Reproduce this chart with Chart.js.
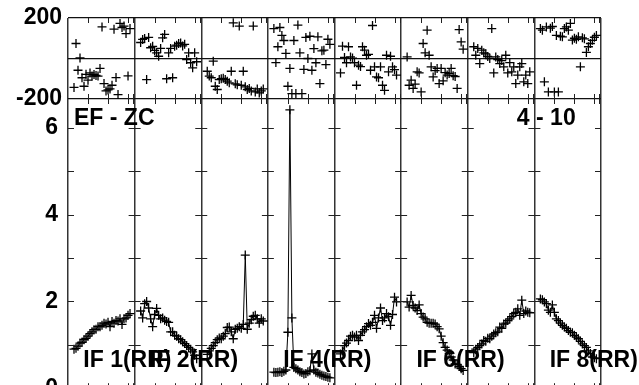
<!DOCTYPE html>
<html>
<head>
<meta charset="utf-8">
<script src="https://cdn.jsdelivr.net/npm/chart.js@4.4.0/dist/chart.umd.min.js"></script>
<style>
    html, body { margin: 0; padding: 0; background: #fff; overflow: hidden; width: 639px; height: 385px; }
    canvas { position: absolute; left: 0; top: 0; }
</style>
</head>
<body>
<canvas id="botChart" width="639" height="412"></canvas>
<canvas id="topChart" width="639" height="400"></canvas>
<script>
// channels of each IF (x inside one column)
const channels = [3, 4, 5, 6, 7, 8, 9, 10, 11, 12, 13, 14, 15, 16, 17, 18, 19, 20, 21, 22, 23, 24, 25, 26, 27, 28, 29, 30, 31];
const chPerCol = 33.3;

// amplitude per IF (bottom panel)
const ampIF1 = [0.90, 0.92, 0.97, 1.04, 1.06, 1.12, 1.15, 1.20, 1.26, 1.30, 1.35, 1.36, 1.42, 1.42, 1.45, 1.50, 1.48, 1.52, 1.42, 1.54, 1.50, 1.56, 1.55, 1.60, 1.47, 1.60, 1.62, 1.68, 1.72];
const ampIF2 = [1.78, 1.62, 1.95, 2.00, 1.85, 1.60, 1.42, 1.70, 1.84, 1.68, 1.60, 1.62, 1.57, 1.54, 1.52, 1.30, 1.30, 1.22, 1.20, 1.14, 1.12, 1.07, 1.03, 0.98, 0.94, 0.90, 0.84, 0.76, 0.68];
const ampIF3 = [0.78, 0.86, 0.92, 0.98, 1.05, 1.12, 1.16, 1.14, 1.20, 1.26, 1.40, 1.41, 1.30, 1.14, 1.36, 1.38, 1.42, 1.38, 1.47, 3.07, 1.36, 1.50, 1.58, 1.66, 1.68, 1.60, 1.50, 1.60, 1.55];
const ampIF4 = [0.37, 0.36, 0.37, 0.38, 0.36, 0.39, 0.42, 1.29, 6.42, 1.62, 0.48, 0.45, 0.42, 0.38, 0.36, 0.33, 0.34, 0.38, 0.40, 0.79, 0.42, 0.37, 0.35, 0.32, 0.30, 0.28, 0.27, 0.25, 0.24];
const ampIF5 = [0.79, 0.86, 0.98, 1.04, 1.10, 1.20, 1.22, 1.18, 1.22, 1.10, 1.22, 1.30, 1.35, 1.42, 1.49, 1.45, 1.52, 1.68, 1.38, 1.62, 1.85, 1.56, 1.62, 1.72, 1.65, 1.45, 1.70, 2.10, 1.99];
const ampIF6 = [1.99, 1.87, 2.14, 1.91, 1.85, 1.79, 1.92, 1.72, 1.64, 1.60, 1.52, 1.50, 1.50, 1.50, 1.48, 1.42, 1.37, 1.20, 1.05, 0.94, 0.88, 0.80, 0.72, 0.65, 0.56, 0.55, 0.50, 0.45, 0.41];
const ampIF7 = [0.82, 0.90, 0.94, 0.98, 1.02, 1.10, 1.08, 1.15, 1.14, 1.20, 1.25, 1.28, 1.30, 1.41, 1.38, 1.48, 1.50, 1.56, 1.60, 1.65, 1.72, 1.75, 1.83, 1.68, 2.03, 1.72, 1.78, 1.75, 1.74];
const ampIF8 = [2.06, 2.04, 1.99, 1.95, 1.80, 1.75, 1.92, 1.75, 1.60, 1.56, 1.50, 1.45, 1.41, 1.38, 1.33, 1.29, 1.28, 1.22, 1.18, 1.14, 1.08, 1.02, 0.98, 0.94, 0.86, 0.80, 0.72, 0.70, 0.68];

// phase per IF in degrees (top panel)
const phIF1 = [-143, 74, -58, 3, -95, -137, -78, -107, -71, -87, -79, -84, -87, -49, 156, -124, -160, -155, -150, -132, 145, -94, -178, 173, 153, 160, 123, -86, 148];
const phIF2 = [79, 94, 99, -104, 104, 53, 60, 40, 28, 11, 50, 102, 119, -100, 28, 50, -95, 61, 66, 74, 77, 62, 70, -5, 28, -21, -46, 28, -16];
const phIF3 = [-63, -87, -95, -13, -137, -153, -104, -100, -98, -104, -112, -120, -63, 176, -125, -130, 160, -132, -63, -140, -153, -148, -160, 160, -165, -150, -170, -160, -150];
const phIF4 = [148, -20, 58, 153, 114, 89, 25, -137, -49, -173, 89, -173, 165, 28, -173, -54, 104, 0, 110, -58, 49, -21, 107, -124, 38, 41, -30, 95, 70];
const phIF5 = [-71, 61, 5, -21, 58, 8, 2, -21, -132, -33, -40, 58, 41, 16, 20, -58, 163, -41, -91, -95, -41, -132, -157, 16, -66, 11, -41, -55, -82];
const phIF6 = [8, -132, -107, -148, -127, -66, -71, -165, 74, 28, 140, 16, -41, -91, -60, -49, -124, -49, -110, -70, -82, -74, -49, -85, -89, -148, 143, 82, 46];
const phIF7 = [58, 16, 50, -25, 41, 28, 23, 10, 0, 148, -71, 8, -5, -25, -10, -41, 16, -71, -20, -66, -41, -124, -82, -41, -25, -115, -82, -124, -66];
const phIF8 = [148, 140, -115, 156, -165, 150, 158, -165, 114, -165, 110, 107, 148, 156, 140, 173, 91, 100, 95, 107, -41, 102, 97, 30, 58, 74, 90, 105, 114];

// axis ticks and labels
const ampTicks = [0, 2, 4, 6];
const ampMinor = [1, 2, 3, 4, 5, 6];
const phaseTicks = [-200, 0, 200];
const minorCh = [10, 20, 30, 32.5];
const ifLabels = ['IF 1(RR)', 'IF 2(RR)', 'IF 4(RR)', 'IF 6(RR)', 'IF 8(RR)'];
const ifLabelCols = [0, 1, 3, 5, 7];

const amps = [ampIF1, ampIF2, ampIF3, ampIF4, ampIF5, ampIF6, ampIF7, ampIF8];
const phases = [phIF1, phIF2, phIF3, phIF4, phIF5, phIF6, phIF7, phIF8];

const fontFam = '"Liberation Sans", Arial, sans-serif';

function toPoints(values, col) {
    return values.map((v, i) => ({ x: col + channels[i] / chPerCol, y: v }));
}

// little tick marks, cross ticks and text labels
const decor = {
    id: 'decor',
    afterDatasetsDraw(chart, args, opts) {
        const ctx = chart.ctx;
        const a = chart.chartArea;
        const x = chart.scales.x;
        const y = chart.scales.y;
        ctx.save();
        ctx.strokeStyle = '#222';
        ctx.lineWidth = 1;
        ctx.beginPath();
        for (let k = 0; k < 8; k++) {
            minorCh.forEach(ch => {
                const px = Math.round(x.getPixelForValue(k + ch / chPerCol)) + 0.5;
                ctx.moveTo(px, a.top); ctx.lineTo(px, a.top + 5);
                ctx.moveTo(px, a.bottom - 5); ctx.lineTo(px, a.bottom);
            });
        }
        (opts.yMinor || []).forEach(v => {
            const py = Math.round(y.getPixelForValue(v)) + 0.5;
            for (let k = 0; k <= 8; k++) {
                const px = x.getPixelForValue(k);
                ctx.moveTo(Math.max(a.left, px - 6), py);
                ctx.lineTo(Math.min(a.right, px + 6), py);
            }
        });
        ctx.stroke();

        ctx.fillStyle = '#000';
        ctx.font = 'bold 23px ' + fontFam;
        ctx.textBaseline = 'alphabetic';
        (opts.texts || []).forEach(t => {
            ctx.textAlign = t.align || 'left';
            ctx.fillText(t.text, x.getPixelForValue(t.x), y.getPixelForValue(t.y));
        });
        ctx.restore();
    }
};

function xScale() {
    return {
        type: 'linear',
        min: 0,
        max: 8,
        ticks: { display: false, stepSize: 1 },
        grid: { color: '#333', lineWidth: 1.5, drawTicks: false },
        border: { display: false },
        afterFit: s => { s.height = 0; }
    };
}

// top panel: phase
new Chart(document.getElementById('topChart'), {
    type: 'scatter',
    data: {
        datasets: phases.map((p, k) => ({
            data: toPoints(p, k),
            showLine: false,
            pointStyle: 'cross',
            pointRadius: 4.5,
            pointBorderWidth: 1.3,
            borderColor: '#000'
        }))
    },
    options: {
        responsive: false,
        animation: false,
        devicePixelRatio: 1,
        layout: { padding: { left: 0, right: 38, top: 18, bottom: 301 } },
        plugins: {
            legend: { display: false },
            tooltip: { enabled: false },
            decor: {}
        },
        scales: {
            x: xScale(),
            y: {
                min: -200,
                max: 200,
                afterBuildTicks: s => { s.ticks = phaseTicks.map(v => ({ value: v })); },
                ticks: {
                    callback: v => (v === 0 ? '' : v),
                    color: '#000',
                    padding: 6,
                    font: { family: fontFam, size: 23, weight: 'bold', lineHeight: 1 }
                },
                grid: { color: '#111', lineWidth: 1.2, drawTicks: false },
                border: { display: false },
                afterFit: s => { s.width = 68; }
            }
        }
    },
    plugins: [decor]
});

// bottom panel: amplitude
new Chart(document.getElementById('botChart'), {
    type: 'scatter',
    data: {
        datasets: amps.map((a, k) => ({
            data: toPoints(a, k),
            showLine: true,
            borderWidth: 1,
            borderColor: '#000',
            pointStyle: 'cross',
            pointRadius: 4.5,
            pointBorderWidth: 1.3,
            pointBorderColor: '#000'
        }))
    },
    options: {
        responsive: false,
        animation: false,
        devicePixelRatio: 1,
        layout: { padding: { left: 0, right: 38, top: 99, bottom: 0 } },
        plugins: {
            legend: { display: false },
            tooltip: { enabled: false },
            decor: {
                yMinor: ampMinor,
                texts: [
                    { text: 'EF - ZC', x: 0.09, y: 6.06 },
                    { text: '4 - 10', x: 7.62, y: 6.06, align: 'right' }
                ].concat(ifLabels.map((t, i) => ({ text: t, x: ifLabelCols[i] + 0.23, y: 0.48 })))
            }
        },
        scales: {
            x: xScale(),
            y: {
                min: 0,
                max: 6.67,
                afterBuildTicks: s => { s.ticks = ampTicks.map(v => ({ value: v })); },
                ticks: {
                    color: '#000',
                    padding: 10,
                    font: { family: fontFam, size: 23, weight: 'bold' }
                },
                grid: { display: false, drawTicks: false },
                border: { display: false },
                afterFit: s => { s.width = 68; }
            }
        }
    },
    plugins: [decor]
});
</script>
</body>
</html>
